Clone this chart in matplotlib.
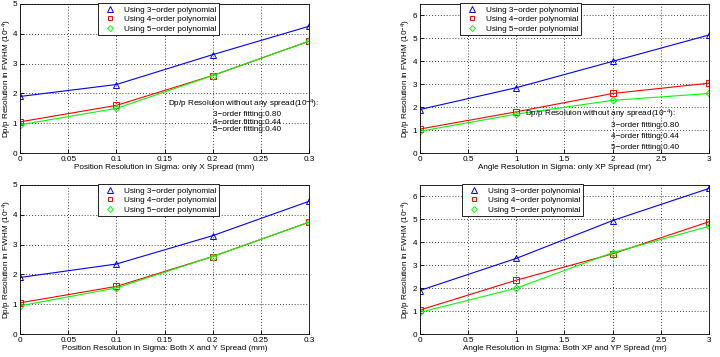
import numpy as np
import matplotlib
matplotlib.use("Agg")
import matplotlib.pyplot as plt
from matplotlib.ticker import FuncFormatter

plt.rcParams['font.family'] = ['Liberation Sans', 'DejaVu Sans']
plt.rcParams['mathtext.fontset'] = 'custom'
plt.rcParams['mathtext.rm'] = 'Liberation Sans'
plt.rcParams['mathtext.it'] = 'Liberation Sans'

# donnees
x_pos = [0, 0.1, 0.2, 0.3]
x_ang = [0, 1, 2, 3]

onlyx_3 = [1.9, 2.3, 3.3, 4.25]
onlyx_4 = [1.05, 1.6, 2.6, 3.75]
onlyx_5 = [0.95, 1.5, 2.6, 3.75]

onlyxp_3 = [1.9, 2.85, 4.0, 5.15]
onlyxp_4 = [1.05, 1.8, 2.6, 3.05]
onlyxp_5 = [0.95, 1.7, 2.3, 2.6]

bothxy_3 = [1.9, 2.35, 3.3, 4.45]
bothxy_4 = [1.05, 1.6, 2.6, 3.75]
bothxy_5 = [0.95, 1.55, 2.6, 3.75]

bothxpyp_3 = [1.9, 3.3, 4.95, 6.35]
bothxpyp_4 = [1.05, 2.35, 3.5, 4.9]
bothxpyp_5 = [0.95, 2.0, 3.55, 4.7]

noms = ["Using 3\u2212order polynomial", "Using 4\u2212order polynomial",
        "Using 5\u2212order polynomial"]
fitting = ["3\u2212order fitting:0.80", "4\u2212order fitting:0.44",
           "5\u2212order fitting:0.40"]

fs = 5.9
ylab = "Dp/p Resolution in FWHM (10$^{-4}$)"
entete = "Dp/p Resoluion without any spread(10$^{-4}$):"
fmt = FuncFormatter(lambda v, p: "%g" % v)


def trace(ax, x, y3, y4, y5, xlabel, xlim, ylim, xticks, yticks, leg_x):
    l3, = ax.plot(x, y3, color='b', lw=0.8, marker='^', ms=4.5, mfc='none', mew=0.7)
    l4, = ax.plot(x, y4, color='r', lw=0.8, marker='s', ms=4, mfc='none', mew=0.7)
    l5, = ax.plot(x, y5, color='#00ff00', lw=0.8, marker='D', ms=3.5, mfc='none', mew=0.7)
    ax.set_xlim(xlim)
    ax.set_ylim(ylim)
    ax.set_xticks(xticks)
    ax.set_yticks(yticks)
    ax.xaxis.set_major_formatter(fmt)
    ax.grid(True, color='k', ls=(0, (1, 2.5)), lw=0.6)
    ax.tick_params(direction='in', labelsize=fs, length=3, width=0.6, pad=2)
    for s in ax.spines.values():
        s.set_linewidth(0.6)
    ax.set_xlabel(xlabel, fontsize=fs, labelpad=1)
    ax.set_ylabel(ylab, fontsize=fs, va='center')
    ax.yaxis.set_label_coords(-0.045, 0.5)
    # legende : marqueurs seuls
    h = []
    for l in (l3, l4, l5):
        m, = ax.plot([], [], ls='none', marker=l.get_marker(),
                     ms=l.get_markersize() * 0.85,
                     mfc='none', mec=l.get_color(), mew=0.7)
        h.append(m)
    leg = ax.legend(h, noms, loc='upper left', bbox_to_anchor=(leg_x, 1.005),
                    fontsize=fs, fancybox=False, edgecolor='k', framealpha=1,
                    borderpad=0.35, labelspacing=0.2, handlelength=2.2,
                    handletextpad=0.6, borderaxespad=0)
    leg.get_frame().set_linewidth(0.6)


fig = plt.figure(figsize=(7.2, 3.57), dpi=100)
ax1 = fig.add_axes([0.028, 0.571, 0.401, 0.418])
ax2 = fig.add_axes([0.583, 0.571, 0.402, 0.418])
ax3 = fig.add_axes([0.028, 0.064, 0.401, 0.418])
ax4 = fig.add_axes([0.583, 0.064, 0.402, 0.418])

pos_ticks = [0, 0.05, 0.1, 0.15, 0.2, 0.25, 0.3]
ang_ticks = [0, 0.5, 1, 1.5, 2, 2.5, 3]

trace(ax1, x_pos, onlyx_3, onlyx_4, onlyx_5,
      "Position Resolution in Sigma: only X Spread (mm)",
      (0, 0.3), (0, 5), pos_ticks, range(6), 0.27)
trace(ax2, x_ang, onlyxp_3, onlyxp_4, onlyxp_5,
      "Angle Resolution in Sigma: only XP Spread (mr)",
      (0, 3), (0, 6.5), ang_ticks, range(7), 0.14)
trace(ax3, x_pos, bothxy_3, bothxy_4, bothxy_5,
      "Position Resolution in Sigma: Both X and Y Spread (mm)",
      (0, 0.3), (0, 5), pos_ticks, range(6), 0.27)
trace(ax4, x_ang, bothxpyp_3, bothxpyp_4, bothxpyp_5,
      "Angle Resolution in Sigma: Both XP and YP Spread (mr)",
      (0, 3), (0, 6.5), ang_ticks, range(7), 0.145)

# annotations
ax1.text(0.154, 1.65, entete, fontsize=fs, va='center', clip_on=False)
for i, t in enumerate(fitting):
    ax1.text(0.2, 1.30 - 0.26 * i, t, fontsize=fs, va='center')

ax2.text(1.09, 1.70, entete, fontsize=fs, va='center', clip_on=False)
for i, t in enumerate(fitting):
    ax2.text(1.98, 1.22 - 0.48 * i, t, fontsize=fs, va='center')

fig.savefig("out.png", dpi=100)
